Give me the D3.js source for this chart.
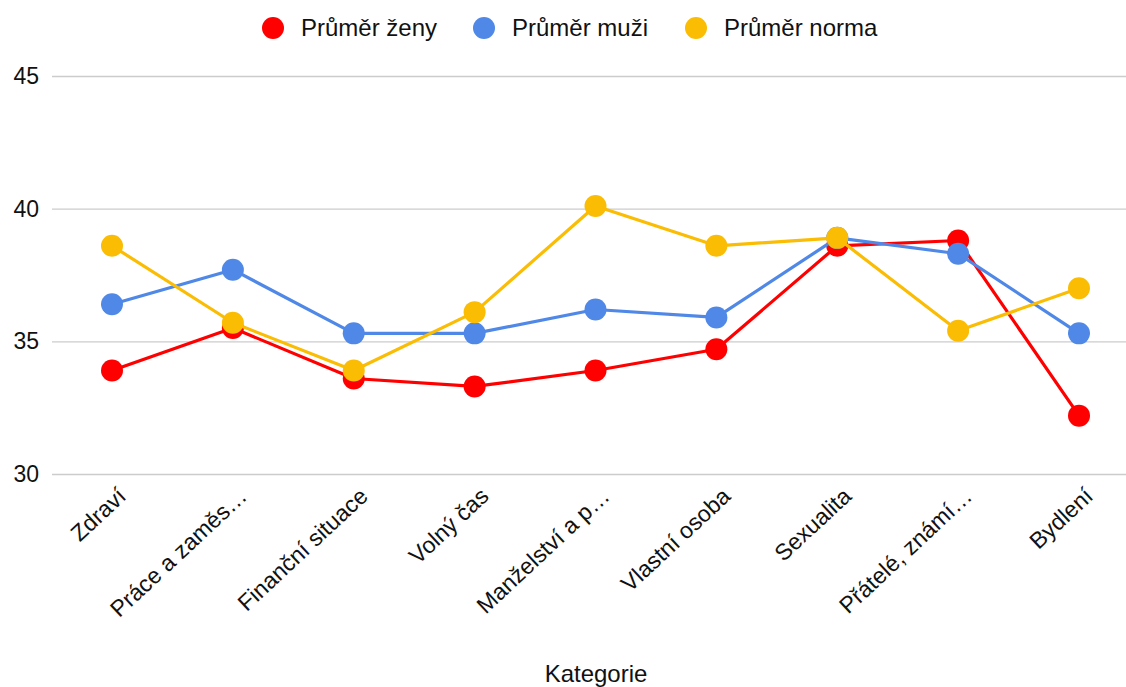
<!DOCTYPE html>
<html>
<head>
<meta charset="utf-8">
<script src="https://cdn.jsdelivr.net/npm/d3@7.9.0/dist/d3.min.js"></script>
<style>
  body { margin: 0; background: #fff; }
  svg { font-family: "Liberation Sans", Arial, sans-serif; }
</style>
</head>
<body>
<svg id="chart" width="1126" height="687"></svg>
<script>
const categories = ['Zdraví', 'Práce a zaměs…', 'Finanční situace', 'Volný čas',
  'Manželství a p…', 'Vlastní osoba', 'Sexualita', 'Přátelé, známí…', 'Bydlení'];
const seriesNames = ['Průměr ženy', 'Průměr muži', 'Průměr norma'];
const zeny  = [33.9, 35.5, 33.6, 33.3, 33.9, 34.7, 38.6, 38.8, 32.2];
const muzi  = [36.4, 37.7, 35.3, 35.3, 36.2, 35.9, 38.9, 38.3, 35.3];
const norma = [38.6, 35.7, 33.9, 36.1, 40.1, 38.6, 38.9, 35.4, 37.0];
const yTicks = [30, 35, 40, 45];
const colors = ['#ff0000', '#4f88e6', '#fbbc04'];

const series = [zeny, muzi, norma].map((values, i) => ({
  name: seriesNames[i], color: colors[i], values
}));

const svg = d3.select('#chart');
const margin = { left: 52, right: 0, top: 76, bottom: 213 };
const width = 1126, height = 687;

const x = d3.scalePoint()
  .domain(categories)
  .range([112, 1079]);

const y = d3.scaleLinear()
  .domain([30, 45])
  .range([height - margin.bottom, margin.top]);

// gridlines + y labels
const yAxis = svg.append('g')
  .attr('transform', `translate(${margin.left},0)`)
  .call(d3.axisLeft(y).tickValues(yTicks).tickSize(-(width - margin.left)).tickPadding(13).tickFormat(d3.format('d')));
yAxis.select('.domain').remove();
yAxis.selectAll('.tick line').attr('stroke', '#cccccc').attr('stroke-width', 1.3);
yAxis.selectAll('.tick text').attr('fill', '#111').style('font-size', '23px');

// x labels
const xAxis = svg.append('g')
  .attr('transform', `translate(0,${height - margin.bottom})`)
  .call(d3.axisBottom(x).tickSize(0).tickPadding(0));
xAxis.select('.domain').remove();
xAxis.selectAll('.tick text')
  .attr('fill', '#111')
  .style('font-size', '23px')
  .attr('text-anchor', 'end')
  .attr('dy', '0')
  .attr('transform', 'translate(15,24) rotate(-43)');

// series
const line = d3.line()
  .x((d, i) => x(categories[i]))
  .y(d => y(d));

series.forEach(s => {
  const g = svg.append('g');
  g.append('path')
    .datum(s.values)
    .attr('d', line)
    .attr('fill', 'none')
    .attr('stroke', s.color)
    .attr('stroke-width', 3.2)
    .attr('stroke-linejoin', 'round');
  g.selectAll('circle')
    .data(s.values)
    .join('circle')
    .attr('cx', (d, i) => x(categories[i]))
    .attr('cy', d => y(d))
    .attr('r', 11)
    .attr('fill', s.color);
});

// legend
const legendX = [273, 484, 696];
const legend = svg.append('g');
series.forEach((s, i) => {
  legend.append('circle')
    .attr('cx', legendX[i]).attr('cy', 28).attr('r', 11)
    .attr('fill', s.color);
  legend.append('text')
    .attr('x', legendX[i] + 28).attr('y', 36)
    .attr('fill', '#111')
    .style('font-size', '24px')
    .text(s.name);
});

// axis title
svg.append('text')
  .attr('x', 596).attr('y', 682)
  .attr('text-anchor', 'middle')
  .attr('fill', '#111')
  .style('font-size', '24px')
  .text('Kategorie');
</script>
</body>
</html>
